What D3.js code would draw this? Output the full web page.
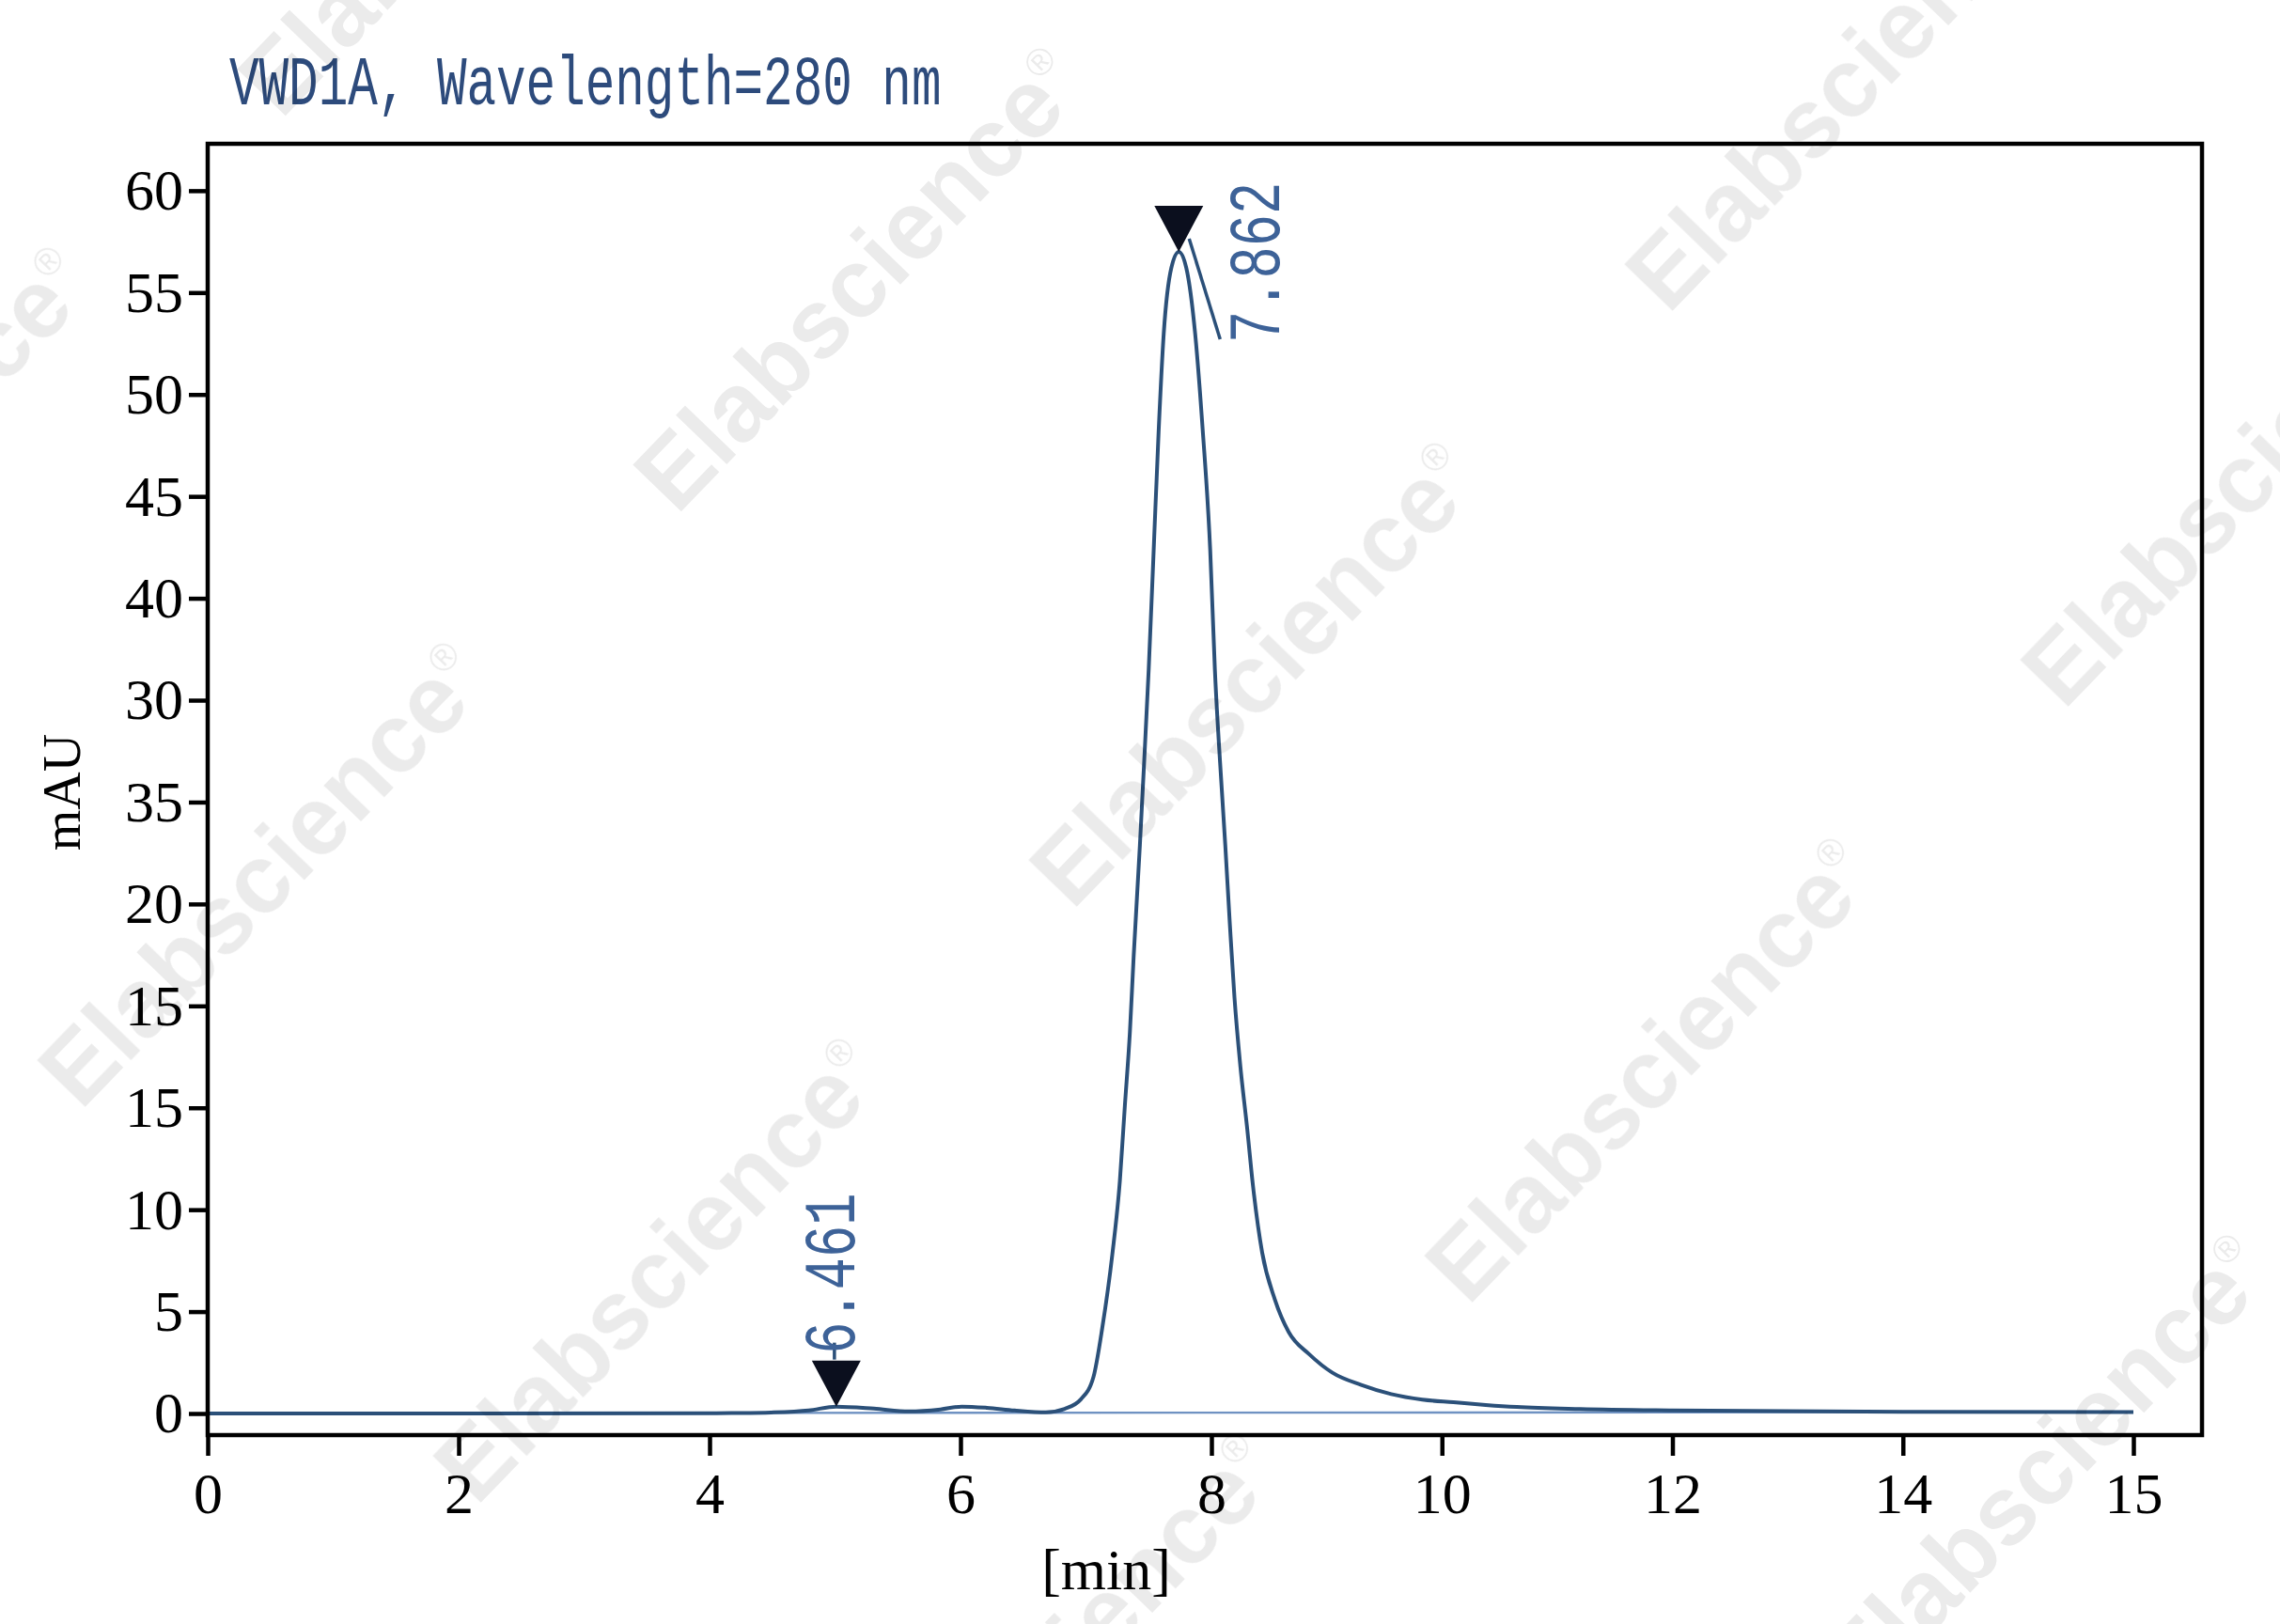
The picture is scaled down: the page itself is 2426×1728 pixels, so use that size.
<!DOCTYPE html>
<html>
<head>
<meta charset="utf-8">
<script src="https://cdn.jsdelivr.net/npm/d3@7"></script>
<style>
  body { margin: 0; background: #fff; }
  svg { display: block; }
</style>
</head>
<body>
<div id="chart"></div>
<script>
// chromatogram trace (time in axis units, signal in mAU)
const chromTime = [0, 2, 4, 4.19, 4.49, 4.79, 5.01, 5.31, 5.59, 5.84, 6.01, 6.21, 6.43, 6.68, 6.83, 6.96, 7.06, 7.13,
    7.21, 7.27, 7.31, 7.35, 7.38, 7.43, 7.46, 7.5, 7.54, 7.58, 7.62, 7.68, 7.74, 7.8, 7.87, 7.93, 7.99, 8.03, 8.09,
    8.12, 8.16, 8.2, 8.25, 8.31, 8.36, 8.44, 8.55, 8.67, 8.85, 9.05, 9.3, 9.56, 9.83, 10.1, 10.38, 10.65, 11.2, 12,
    14, 16];
const chromSignal = [0, 0, 0.01, 0.02, 0.05, 0.15, 0.34, 0.24, 0.1, 0.2, 0.34, 0.28, 0.15, 0.06, 0.23, 0.7, 1.8, 4.2,
    7.8, 11.4, 15.1, 18.7, 22.4, 27.9, 31.5, 36.5, 42.4, 48.3, 53.0, 56.2, 57.0, 56.2, 53.0, 48.3, 42.4, 36.5, 30.6,
    27.9, 24.0, 20.4, 17.1, 14.0, 11.2, 7.9, 5.6, 4.0, 2.9, 2.0, 1.4, 0.95, 0.68, 0.55, 0.42, 0.32, 0.22, 0.15,
    0.08, 0.07];

// integration baseline
const baseTime = [4.3, 16];
const baseSignal = [0.03, 0.07];

// peak marks
const peakTime = [5.01, 7.74];
const peakSignal = [0.34, 57.0];
const peakLabels = ['6.461', '7.862'];

const xTickValues = [0, 2, 4, 6, 8, 10, 12, 14, 16];
const xTickLabels = ['0', '2', '4', '6', '8', '10', '12', '14', '15'];
const yTickValues = [0, 5, 10, 15, 20, 25, 30, 35, 40, 45, 50, 55, 60];
const yTickLabels = ['0', '5', '10', '15', '15', '20', '35', '30', '40', '45', '50', '55', '60'];

const title = 'VWD1A, Wavelength=280 nm';
const xTitle = '[min]';
const yTitle = 'mAU';
const watermark = 'Elabscience';

const width = 2426;
const height = 1728;
const margin = { top: 153, right: 83, bottom: 201, left: 221 };
const w = width - margin.left - margin.right;
const h = height - margin.top - margin.bottom;

const serif = '"Liberation Serif", "DejaVu Serif", serif';
const mono = '"Liberation Mono", "DejaVu Sans Mono", monospace';

const svg = d3.select('#chart').append('svg')
    .attr('width', width)
    .attr('height', height);

svg.append('rect').attr('width', width).attr('height', height).attr('fill', '#fff');

const g = svg.append('g').attr('transform', `translate(${margin.left},${margin.top})`);

// the printed x axis is stretched differently before and after 8 min
const x = d3.scaleLinear().domain([0, 8, 16]).range([0, 0.5033 * w, 0.9656 * w]);
const y = d3.scaleLinear().domain([-1.06, 62.3]).range([h, 0]);

// axes
const yAxis = g.append('g')
    .call(d3.axisLeft(y).tickValues(yTickValues).tickFormat((d, i) => yTickLabels[i]).tickSize(20).tickPadding(6));
const xAxis = g.append('g')
    .attr('transform', `translate(0,${h})`)
    .call(d3.axisBottom(x).tickValues(xTickValues).tickFormat((d, i) => xTickLabels[i]).tickSize(22).tickPadding(17));

[xAxis, yAxis].forEach(ax => {
    ax.select('.domain').remove();
    ax.selectAll('.tick line').attr('stroke', '#000').attr('stroke-width', 4.5);
    ax.selectAll('.tick text')
        .attr('fill', '#000')
        .style('font-family', serif)
        .style('font-size', '62px');
});

// traces
const line = d3.line()
    .x(d => x(d[0]))
    .y(d => y(d[1]))
    .curve(d3.curveMonotoneX);

g.append('path')
    .datum(baseTime.map((t, i) => [t, baseSignal[i]]))
    .attr('d', line)
    .attr('fill', 'none')
    .attr('stroke', '#6f92c2')
    .attr('stroke-width', 2.4);

g.append('path')
    .datum(chromTime.map((t, i) => [t, chromSignal[i]]))
    .attr('d', line)
    .attr('fill', 'none')
    .attr('stroke', '#2b5079')
    .attr('stroke-width', 4)
    .attr('stroke-linejoin', 'round');

// peak markers and retention time labels
const tri = d3.path();
tri.moveTo(-26, -49);
tri.lineTo(26, -49);
tri.lineTo(0, 0);
tri.closePath();

peakTime.forEach((t, i) => {
    const px = x(t);
    const py = y(peakSignal[i]);
    let tx, ty, lead;
    if (i === 0) {
        tx = px + 19; ty = py - 56;
        lead = [[px - 2, py - 50], [px - 2, py - 68]];
    } else {
        tx = px + 107; ty = py + 97;
        lead = [[px + 11, py - 14], [px + 44, py + 93]];
    }
    g.append('line')
        .attr('x1', lead[0][0]).attr('y1', lead[0][1])
        .attr('x2', lead[1][0]).attr('y2', lead[1][1])
        .attr('stroke', '#2b5079')
        .attr('stroke-width', 3.5);
    g.append('path')
        .attr('d', tri.toString())
        .attr('transform', `translate(${px},${py})`)
        .attr('fill', '#0b0f1e');
    g.append('text')
        .attr('transform', `translate(${tx},${ty}) rotate(-90) scale(1,1.37)`)
        .style('font-family', mono)
        .style('font-size', '57px')
        .attr('fill', '#3d6298')
        .text(peakLabels[i]);
});

// frame
g.append('rect')
    .attr('width', w)
    .attr('height', h)
    .attr('fill', 'none')
    .attr('stroke', '#000')
    .attr('stroke-width', 4.5);

// titles
svg.append('text')
    .attr('transform', 'translate(244,111) scale(1,1.4)')
    .style('font-family', mono)
    .style('font-size', '52.6px')
    .attr('fill', '#2d4b7c')
    .text(title);

svg.append('text')
    .attr('x', 1177)
    .attr('y', 1691)
    .attr('text-anchor', 'middle')
    .style('font-family', serif)
    .style('font-size', '62px')
    .attr('fill', '#000')
    .text(xTitle);

svg.append('text')
    .attr('transform', 'translate(85,843) rotate(-90)')
    .attr('text-anchor', 'middle')
    .style('font-family', serif)
    .style('font-size', '56px')
    .attr('fill', '#000')
    .text(yTitle);

// watermark grid
const wm = svg.append('g').attr('opacity', 0.08);
for (let i = -3; i <= 4; i++) {
    for (let j = -3; j <= 4; j++) {
        const cx = 913 + i * 421 + j * 634;
        const cy = 297 + i * 421 - j * 634;
        if (cx < -400 || cx > width + 400 || cy < -400 || cy > height + 400) continue;
        const t = wm.append('text')
            .attr('transform', `translate(${cx},${cy}) rotate(-46)`)
            .attr('text-anchor', 'middle')
            .attr('dy', '0.35em')
            .style('font-family', '"Liberation Sans", Arial, sans-serif')
            .style('font-weight', 'bold')
            .style('font-size', '104px')
            .attr('fill', '#000');
        t.append('tspan').text(watermark);
        t.append('tspan').attr('dy', '-1.1em').style('font-size', '40px').style('font-weight', 'normal').text('®');
    }
}
</script>
</body>
</html>
